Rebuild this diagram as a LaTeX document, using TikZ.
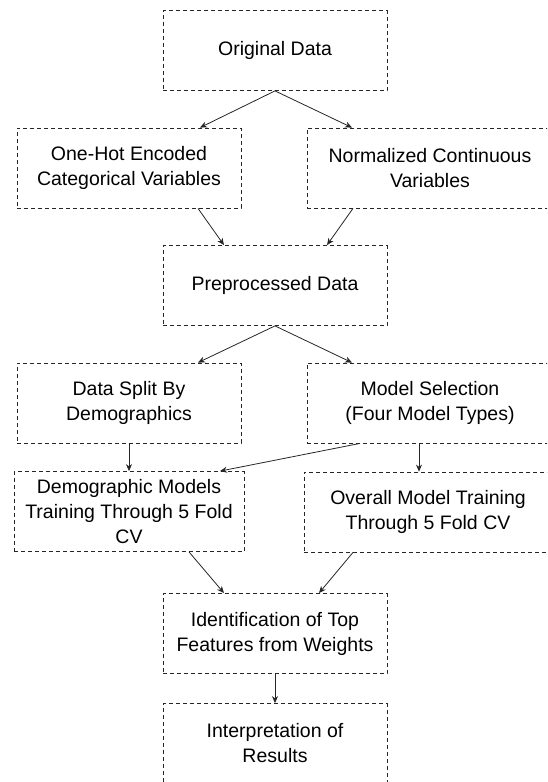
\documentclass[tikz,border=0pt]{standalone}
\usepackage{fontspec}
\setmainfont{Liberation Sans}
\usetikzlibrary{arrows.meta}

\begin{document}
\begin{tikzpicture}
    [node distance=117.5pt,
    box/.style={draw=black!85, line width=0.8pt, dash pattern=on 4pt off 3pt,
        minimum width=224pt, minimum height=80pt, align=center,
        font=\fontsize{19.5pt}{25pt}\selectfont},
    wide/.style={minimum width=246pt},
    flow/.style={draw=black!85, line width=0.8pt, -{Stealth[length=7pt,width=6pt]}}]
        \useasboundingbox (-275pt,50.5pt) rectangle (272pt,-731.5pt);
        \clip (-275pt,50.5pt) rectangle (272pt,-731.5pt);
        % Preprocessing
        \node[box] (orig) {Original Data};
        \node[box, below of=orig, xshift=-146pt] (onehot) {One-Hot Encoded\\Categorical Variables};
        \node[box, wide, below of=orig, xshift=155pt] (norm) {Normalized Continuous\\Variables};
        \node[box, below of=onehot, xshift=146pt] (prep) {Preprocessed Data};

        \draw[flow] (orig.south) -- ([xshift=71pt]onehot.north);
        \draw[flow] (orig.south) -- ([xshift=-78pt]norm.north);
        \draw[flow] ([xshift=69pt]onehot.south) -- ([xshift=-51pt]prep.north);
        \draw[flow] ([xshift=-77pt]norm.south) -- ([xshift=52pt]prep.north);
        % Training
        \node[box, below of=prep, xshift=-146pt] (split) {Data Split By\\Demographics};
        \node[box, wide, below of=prep, xshift=155pt] (msel) {Model Selection\\(Four Model Types)};
        \node[box, minimum width=230pt, below of=split, node distance=108.5pt] (demo) {Demographic Models\\Training Through 5 Fold\\CV};
        \node[box, minimum width=248pt, below of=msel, node distance=109pt, xshift=-2pt] (overall) {Overall Model Training\\Through 5 Fold CV};

        \draw[flow] (prep.south) -- ([xshift=69pt]split.north);
        \draw[flow] (prep.south) -- ([xshift=-78pt]msel.north);
        \draw[flow] (split.south) -- (demo.north);
        \draw[flow] ([xshift=-70pt]msel.south) -- ([xshift=91pt]demo.north);
        \draw[flow] ([xshift=-11pt]msel.south) -- ([xshift=-9pt]overall.north);
        % Results
        \node[box, below of=demo, node distance=122pt, xshift=146pt] (ident) {Identification of Top\\Features from Weights};
        \node[box, below of=ident, node distance=110pt] (interp) {Interpretation of\\Results};

        \draw[flow] ([xshift=60pt]demo.south) -- ([xshift=-51pt]ident.north);
        \draw[flow] ([xshift=-75pt]overall.south) -- ([xshift=44pt]ident.north);
        \draw[flow] (ident.south) -- (interp.north);
    \end{tikzpicture}
\end{document}
